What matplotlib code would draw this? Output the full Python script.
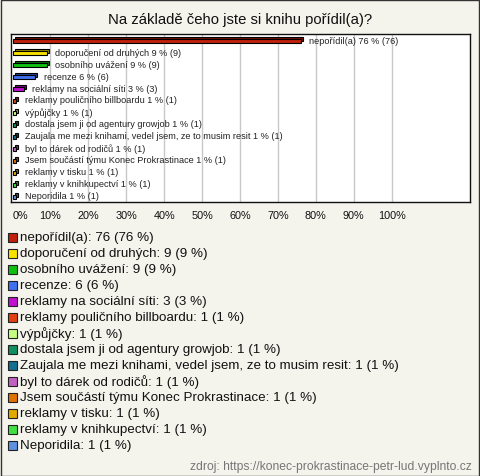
import matplotlib
matplotlib.use("Agg")
import matplotlib.pyplot as plt
from matplotlib.patches import Rectangle
from matplotlib.transforms import ScaledTranslation
from matplotlib.colors import to_rgb

plt.rcParams["font.family"] = ["Liberation Sans", "DejaVu Sans"]

# data
categories = [
    "nepořídil(a)",
    "doporučení od druhých",
    "osobního uvážení",
    "recenze",
    "reklamy na sociální síti",
    "reklamy pouličního billboardu",
    "výpůjčky",
    "dostala jsem ji od agentury growjob",
    "Zaujala me mezi knihami, vedel jsem, ze to musim resit",
    "byl to dárek od rodičů",
    "Jsem součástí týmu Konec Prokrastinace",
    "reklamy v tisku",
    "reklamy v knihkupectví",
    "Neporidila",
]
counts = [76, 9, 9, 6, 3, 1, 1, 1, 1, 1, 1, 1, 1, 1]
percents = [76, 9, 9, 6, 3, 1, 1, 1, 1, 1, 1, 1, 1, 1]
colors = [
    "#c0200c", "#f8e000", "#10c010", "#4070f0", "#c010d0",
    "#e04010", "#c4ff80", "#109060", "#107090", "#c060c0",
    "#e07000", "#e0a800", "#40e040", "#6090e0",
]
xticks = [0, 10, 20, 30, 40, 50, 60, 70, 80, 90, 100]

W, H = 480, 477
BG = "#f4f3ec"

fig = plt.figure(figsize=(W / 100, H / 100), dpi=100)
fig.patch.set_facecolor(BG)
fig.patches.append(Rectangle((0.5 / W, 0.5 / H), 1 - 1.5 / W, 1 - 1.5 / H,
                             transform=fig.transFigure, fill=False,
                             edgecolor="#333333", linewidth=1.0))

fig.text(240 / W, 1 - 20 / H, "Na základě čeho jste si knihu pořídil(a)?",
         ha="center", va="center", fontsize=10.7, color="#111111")

# plot area
ax = fig.add_axes([11 / W, 1 - 203 / H, 459 / W, 168 / H])
ax.set_facecolor("white")
ax.set_xlim(-0.4, 120.7)
ax.set_ylim(len(categories) - 0.5, -0.5)
ax.set_yticks([])
ax.set_xticks(xticks)
ax.set_xticklabels([f"{t}%" for t in xticks], fontsize=7.8, color="#111111")
ax.get_xticklabels()[0].set_ha("left")
ax.get_xticklabels()[0].set_x(-0.4)
ax.tick_params(axis="x", length=0, pad=6)
for x in xticks[1:]:
    ax.axvline(x, color="#c8c8c8", linewidth=1, zorder=0)
for s in ax.spines.values():
    s.set_color("#111111")
    s.set_linewidth(1)

ypos = [i + 0.08 for i in range(len(categories))]
dark = [tuple(c * 0.6 for c in to_rgb(col)) for col in colors]
# depth face behind the bar, shifted up and right
shift = ax.transData + ScaledTranslation(2.0 / 100, 2.0 / 100, fig.dpi_scale_trans)
ax.barh(ypos, counts, height=0.36, color=dark, edgecolor="black",
        linewidth=0.8, transform=shift, zorder=2)
ax.barh(ypos, counts, height=0.36, color=colors, edgecolor="black",
        linewidth=0.8, zorder=3)

for y, cat, c, p in zip(range(len(categories)), categories, counts, percents):
    ax.annotate(f"{cat} {p} % ({c})", (c, y), xytext=(6, 0),
                textcoords="offset points", va="center", ha="left",
                fontsize=6.6, color="#222222", zorder=4)

# legend below the chart
for i, (cat, c, p, col) in enumerate(zip(categories, counts, percents, colors)):
    yc = 1 - (238 + 16 * i) / H
    fig.patches.append(Rectangle((8 / W, yc - 4.5 / H), 9 / W, 9 / H,
                                 transform=fig.transFigure, facecolor=col,
                                 edgecolor="#222222", linewidth=0.8))
    fig.text(20 / W, yc, f"{cat}: {c} ({p} %)", ha="left", va="center",
             fontsize=9.6, color="#111111")

fig.text(472 / W, 1 - 467 / H,
         "zdroj: https://konec-prokrastinace-petr-lud.vyplnto.cz",
         ha="right", va="center", fontsize=8.7, color="#777777")

fig.savefig("out.png", dpi=100, facecolor=BG)
